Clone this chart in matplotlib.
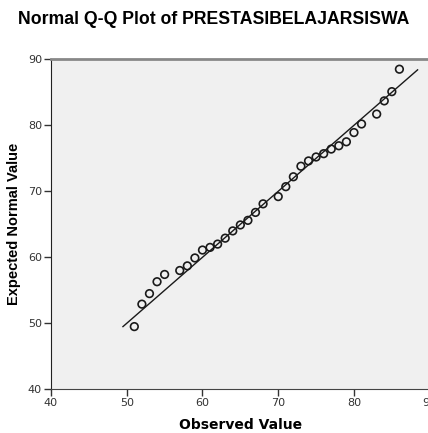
import matplotlib
matplotlib.use("Agg")
import matplotlib.pyplot as plt

observed = [51, 52, 53, 54, 55, 57, 58, 59, 60, 61, 62, 63, 64, 65, 66, 67, 68,
            70, 71, 72, 73, 74, 75, 76, 77, 78, 79, 80, 81, 83, 84, 85, 86]
expected = [49.5, 52.9, 54.5, 56.3, 57.4, 58.0, 58.7, 59.9, 61.1, 61.5, 62.0, 62.9,
            64.0, 64.9, 65.6, 66.8, 68.1, 69.2, 70.7, 72.2, 73.8, 74.6, 75.2, 75.7,
            76.4, 76.9, 77.5, 78.9, 80.2, 81.7, 83.7, 85.1, 88.5]

# reference line y = x
line_x = [49.5, 88.4]
line_y = [49.5, 88.4]

x_ticks = [40, 50, 60, 70, 80, 90]
y_ticks = [40, 50, 60, 70, 80, 90]

plt.rcParams['font.family'] = ['DejaVu Sans']

fig = plt.figure(figsize=(4.28, 4.33), dpi=100)
ax = fig.add_axes([51 / 428, 1 - 389.3 / 433, (429.7 - 51) / 428, (389.3 - 59.3) / 433])
ax.set_facecolor('#f0f0f0')

ax.plot(line_x, line_y, color='#1a1a1a', linewidth=1.0, zorder=2)
ax.scatter(observed, expected, s=30, facecolors='none', edgecolors='#1a1a1a',
           linewidths=1.2, zorder=3)

ax.set_xlim(40, 90)
ax.set_ylim(40, 90)
ax.set_xticks(x_ticks)
ax.set_yticks(y_ticks)
ax.tick_params(axis='both', direction='out', length=5, width=1, color='#333333',
               labelsize=8, labelcolor='#333333', pad=1.5)

ax.spines['left'].set_color('#222222')
ax.spines['bottom'].set_color('#444444')
ax.spines['top'].set_color('#888888')
ax.spines['top'].set_linewidth(2)
ax.spines['right'].set_visible(False)

ax.set_xlabel("Observed Value", fontsize=10, fontweight='bold', labelpad=7)
ax.set_ylabel("Expected Normal Value", fontsize=10.5, fontweight='bold', labelpad=5,
              family='Liberation Sans')
fig.text(0.5, 1 - 20 / 433, "Normal Q-Q Plot of PRESTASIBELAJARSISWA",
         ha='center', va='center', fontsize=12.7, fontweight='bold',
         family='Liberation Sans')

fig.savefig("out.png", dpi=100)
